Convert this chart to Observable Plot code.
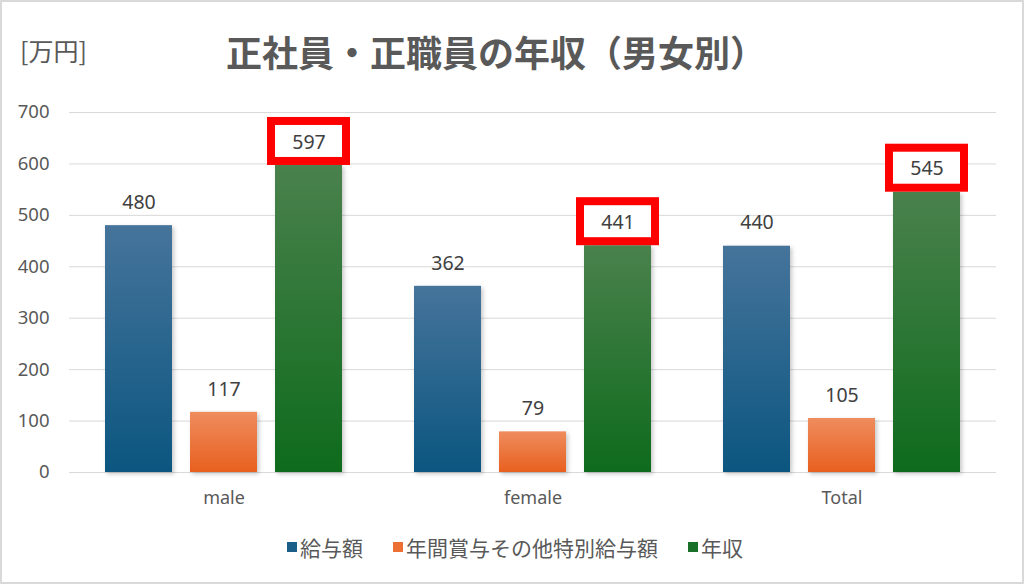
<!DOCTYPE html>
<html><head><meta charset="utf-8">
<script src="https://cdn.jsdelivr.net/npm/d3@7"></script>
<script src="https://cdn.jsdelivr.net/npm/@observablehq/plot@0.6"></script>
<style>
body{margin:0;background:#fff;}
#chart{position:relative;width:1024px;height:584px;box-shadow:inset 0 0 0 2px #d9d9d9;font-family:"Noto Sans","Noto Sans CJK JP",sans-serif;color:#595959;overflow:hidden}
#unit{position:absolute;left:20px;top:34px;font-size:25px;line-height:32px;font-family:"Noto Sans CJK JP",sans-serif;color:#595959}
#title{position:absolute;left:226px;top:27px;font-size:36px;line-height:48px;font-weight:bold;font-family:"Noto Sans CJK JP",sans-serif;color:#595959;white-space:nowrap}
#plot{position:absolute;left:0;top:90px}
#legend{position:absolute;left:0;top:533px;width:1030px;display:flex;justify-content:center;gap:30px;font-size:21px;line-height:28px;font-family:"Noto Sans CJK JP",sans-serif;color:#595959}
#legend span.item{display:flex;align-items:center;gap:3px}
#legend span.sw{display:inline-block;width:10px;height:10px}
</style></head>
<body>
<div id="chart">
  <div id="unit">[万円]</div>
  <div id="title">正社員・正職員の年収（男女別）</div>
  <div id="plot"></div>
  <div id="legend"></div>
</div>
<script>
const categories = ["male", "female", "Total"];
const series = ["給与額", "年間賞与その他特別給与額", "年収"];
const salary = [480, 362, 440];
const bonus = [117, 79, 105];
const annual = [597, 441, 545];
const yTicks = [0, 100, 200, 300, 400, 500, 600, 700];
const seriesColors = ["#1b5e87", "#ec7033", "#1a7029"];
const gradients = [
  ["gBlue", "#46749b", "#0b5680"],
  ["gOrange", "#ef8c5e", "#e8601f"],
  ["gGreen", "#4a814d", "#0e6b1c"]
];

const valuesBySeries = [salary, bonus, annual];
const rows = [];
categories.forEach((c, i) => {
  series.forEach((s, j) => rows.push({cat: c, series: s, value: valuesBySeries[j][i]}));
});
const annualRows = rows.filter(d => d.series === series[2]);

const plot = Plot.plot({
  width: 1024,
  height: 440,
  marginTop: 22,
  marginBottom: 58,
  marginLeft: 68,
  marginRight: 28,
  style: {background: "transparent", color: "#595959", fontFamily: "'Noto Sans','Noto Sans CJK JP',sans-serif"},
  fx: {domain: categories, paddingInner: 0, paddingOuter: 0, label: null},
  x: {domain: series, paddingInner: 0.2093, paddingOuter: 0.403, axis: null},
  y: {domain: [0, 700], label: null, axis: null},
  color: {domain: series, range: gradients.map(g => `url(#${g[0]})`)},
  marks: [
    Plot.gridY(yTicks, {stroke: "#d9d9d9", strokeOpacity: 1, strokeWidth: 1}),
    Plot.axisY(yTicks, {tickSize: 0, tickPadding: 20, fontSize: 18.5, label: null}),
    Plot.axisFx({anchor: "bottom", tickSize: 0, tickPadding: 19, fontSize: 18, label: null}),
    Plot.barY(rows, {fx: "cat", x: "series", y: "value", fill: "series", className: "bars"}),
    Plot.barY(annualRows, {fx: "cat", x: "series", y1: "value", y2: "value",
      insetTop: -44, insetBottom: 4, insetLeft: -4, insetRight: -4,
      fill: "white", stroke: "#ff0000", strokeWidth: 8}),
    Plot.text(rows, {fx: "cat", x: "series", y: "value", text: d => String(d.value), dy: -23, fontSize: 19.5, fill: "#404040"})
  ]
});

const svg = d3.select(plot);
const defs = svg.insert("defs", ":first-child");
gradients.forEach(([id, top, bottom]) => {
  const g = defs.append("linearGradient").attr("id", id).attr("x1", 0).attr("y1", 0).attr("x2", 0).attr("y2", 1);
  g.append("stop").attr("offset", "0%").attr("stop-color", top);
  g.append("stop").attr("offset", "100%").attr("stop-color", bottom);
});
svg.selectAll(".bars").style("filter", "drop-shadow(2px 2px 2px rgba(0,0,0,0.22))");
document.getElementById("plot").appendChild(plot);

const legend = document.getElementById("legend");
series.forEach((s, i) => {
  const item = document.createElement("span");
  item.className = "item";
  const sw = document.createElement("span");
  sw.className = "sw";
  sw.style.background = seriesColors[i];
  const t = document.createElement("span");
  t.textContent = s;
  item.appendChild(sw);
  item.appendChild(t);
  legend.appendChild(item);
});
</script>
</body></html>
